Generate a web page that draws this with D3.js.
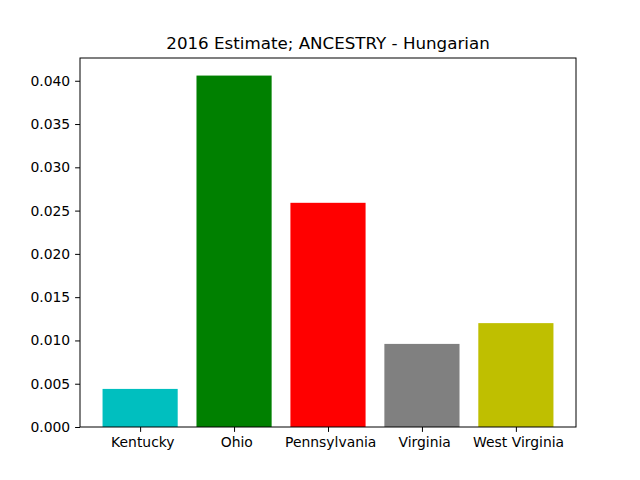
<!DOCTYPE html>
<html>
<head>
<meta charset="utf-8">
<script src="https://cdn.jsdelivr.net/npm/d3@7"></script>
<style>
  body { margin: 0; background: #fff; }
  text { font-family: "DejaVu Sans", sans-serif; white-space: pre; }
</style>
</head>
<body>
<div id="chart"></div>
<script>
// chart data (labels carry a leading space, as in the source chart)
var states = [" Kentucky", " Ohio", " Pennsylvania", " Virginia", " West Virginia"];
var values = [0.0044, 0.0406, 0.0259, 0.0096, 0.0120];
var colors = ["#00bfbf", "#008000", "#ff0000", "#808080", "#bfbf00"];
var yTicks = [0, 0.005, 0.010, 0.015, 0.020, 0.025, 0.030, 0.035, 0.040];
var title = "2016 Estimate; ANCESTRY - Hungarian";

var W = 640, H = 480;
var mLeft = 80, mRight = 576, mTop = 58, mBottom = 427;

var svg = d3.select("#chart").append("svg")
  .attr("width", W).attr("height", H);

var x = d3.scaleLinear().domain([-0.64, 4.64]).range([mLeft, mRight]);
var y = d3.scaleLinear().domain([0, d3.max(values) * 1.05]).range([mBottom, mTop]);

// bars
svg.selectAll("rect.bar")
  .data(values)
  .enter()
  .append("rect")
  .attr("class", "bar")
  .attr("x", function(d, i) { return x(i - 0.4); })
  .attr("width", function(d, i) { return x(i + 0.4) - x(i - 0.4); })
  .attr("y", function(d) { return y(d); })
  .attr("height", function(d) { return y(0) - y(d); })
  .attr("fill", function(d, i) { return colors[i]; });

// y axis
var yAxis = d3.axisLeft(y).tickValues(yTicks)
  .tickFormat(d3.format(".3f")).tickSize(4.9).tickPadding(4.9);
var gy = svg.append("g").attr("transform", "translate(" + mLeft + ",0)").call(yAxis);
gy.select(".domain").remove();
gy.selectAll("text").attr("font-size", "13.9px").attr("fill", "#000")
  .attr("font-family", "DejaVu Sans, sans-serif");
gy.selectAll("line").attr("stroke", "#000").attr("stroke-width", 1);

// x axis
var xAxis = d3.axisBottom(x).tickValues(d3.range(states.length))
  .tickFormat(function(i) { return states[i]; }).tickSize(4.9).tickPadding(5.5);
var gx = svg.append("g").attr("transform", "translate(0," + mBottom + ")").call(xAxis);
gx.select(".domain").remove();
gx.selectAll("text").attr("font-size", "13.9px").attr("fill", "#000")
  .attr("font-family", "DejaVu Sans, sans-serif")
  .attr("xml:space", "preserve");
gx.selectAll("line").attr("stroke", "#000").attr("stroke-width", 1);

// frame
svg.append("rect")
  .attr("x", mLeft).attr("y", mTop)
  .attr("width", mRight - mLeft).attr("height", mBottom - mTop)
  .attr("fill", "none").attr("stroke", "#000").attr("stroke-width", 1);

// title
svg.append("text")
  .attr("x", (mLeft + mRight) / 2).attr("y", 49)
  .attr("text-anchor", "middle")
  .attr("font-size", "16.7px")
  .attr("fill", "#000")
  .text(title);
</script>
</body>
</html>
